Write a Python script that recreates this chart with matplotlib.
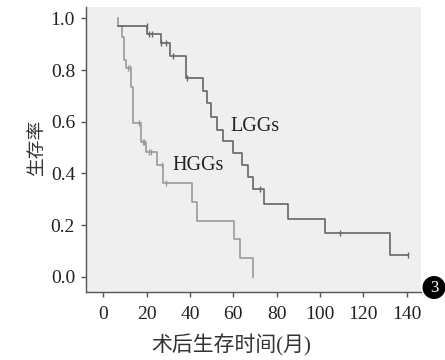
import matplotlib
matplotlib.use("Agg")
import matplotlib.pyplot as plt
from matplotlib.patches import Ellipse

# Kaplan-Meier steps (months, survival rate)
hgg_t = [6.6, 6.6, 8.6, 9.7, 10.5, 12.6, 13.6, 17.6, 19.7, 24.9, 27.7, 40.9, 43.1, 60.1, 63.2, 69.2]
hgg_s = [1.0, 0.970, 0.929, 0.839, 0.807, 0.733, 0.594, 0.523, 0.484, 0.432, 0.361, 0.289, 0.217, 0.146, 0.074, 0.0]
hgg_cens_t = [11.5, 12.2, 16.4, 18.4, 18.9, 21.0, 22.0, 27.0, 28.9]
hgg_cens_s = [0.807, 0.807, 0.594, 0.523, 0.523, 0.484, 0.484, 0.432, 0.361]

lgg_t = [6.6, 20.3, 26.6, 30.8, 38.3, 46.2, 48.0, 49.6, 52.4, 55.4, 60.0, 64.0, 66.6, 69.2, 74.3, 85.4, 102.3, 132.3, 140.8]
lgg_s = [0.970, 0.941, 0.905, 0.856, 0.769, 0.719, 0.671, 0.619, 0.568, 0.527, 0.478, 0.432, 0.385, 0.340, 0.281, 0.225, 0.168, 0.084, 0.084]
lgg_cens_t = [20.0, 21.3, 22.3, 26.8, 29.0, 32.2, 38.8, 72.2, 109.2, 140.8]
lgg_cens_s = [0.970, 0.941, 0.941, 0.905, 0.905, 0.856, 0.769, 0.340, 0.168, 0.084]

x_ticks = [0, 20, 40, 60, 80, 100, 120, 140]
y_ticks = [0.0, 0.2, 0.4, 0.6, 0.8, 1.0]

plt.rcParams['font.family'] = ['Liberation Serif', 'Noto Sans CJK SC']

W, H = 445, 360
fig = plt.figure(figsize=(W / 100, H / 100), dpi=100)
fig.patch.set_facecolor('white')
ax = fig.add_axes([85.5 / W, 1 - 291.5 / H, (421 - 85.5) / W, (291.5 - 7) / H])
ax.set_facecolor('#efefef')

hgg_col = '#9a9a9a'
lgg_col = '#666666'

ax.step(hgg_t, hgg_s, where='post', color=hgg_col, lw=1.2)
ax.plot(hgg_cens_t, hgg_cens_s, ls='none', marker='|', ms=5, mew=1, color=hgg_col)
ax.step(lgg_t, lgg_s, where='post', color=lgg_col, lw=1.2)
ax.plot(lgg_cens_t, lgg_cens_s, ls='none', marker='|', ms=5, mew=1, color=lgg_col)

ax.text(70, 0.583, 'LGGs', fontsize=14.5, color='#222222', ha='center', va='center')
ax.text(43.7, 0.43, 'HGGs', fontsize=14.5, color='#222222', ha='center', va='center')

ax.set_xlim(-8.2, 146.6)
ax.set_ylim(-0.057, 1.044)
ax.set_xticks(x_ticks)
ax.set_yticks(y_ticks)
ax.set_yticklabels([f'{v:.1f}' for v in y_ticks])

for s in ['top', 'right']:
    ax.spines[s].set_visible(False)
for s in ['left', 'bottom']:
    ax.spines[s].set_color('#555555')
    ax.spines[s].set_linewidth(1.0)

ax.tick_params(axis='both', direction='out', length=3.5, width=1, color='#555555',
               labelsize=14, labelcolor='#222222')
ax.tick_params(axis='x', pad=7)
ax.tick_params(axis='y', pad=4)

fig.text(38 / W, 1 - 148 / H, '生存率', rotation=90, fontsize=13.5, color='#333333',
         ha='center', va='center')
fig.text(231 / W, 1 - 345 / H, '术后生存时间(月)', fontsize=15, color='#333333',
         ha='center', va='center')

# small black badge at the lower right edge
fig.add_artist(Ellipse((434 / W, 1 - 287.5 / H), 21.6 / W, 21.6 / H,
                       transform=fig.transFigure, color='black'))
fig.text(434 / W, 1 - 287.5 / H, '3', fontsize=12, color='white', ha='center', va='center')

fig.savefig('out.png', dpi=100)
